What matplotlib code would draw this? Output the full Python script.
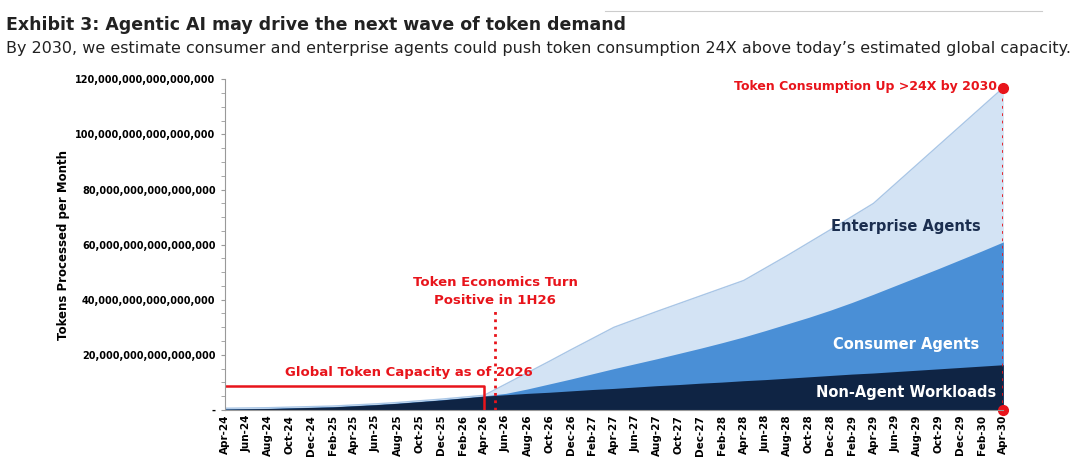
import numpy as np
import matplotlib.pyplot as plt

months = ['Apr', 'Jun', 'Aug', 'Oct', 'Dec', 'Feb']
labels = []
y = 24
for i in range(37):
    m = months[i % 6]
    if m == 'Feb' and i > 0:
        y += 1
    labels.append(f'{m}-{y}')

non_agent = [0.3, 0.4, 0.5, 0.7, 0.9, 1.1, 1.5, 1.9, 2.4, 3.0, 3.6, 4.3, 5.0,
             5.5, 6.0, 6.4, 6.9, 7.4, 7.8, 8.3, 8.8, 9.2, 9.7, 10.1, 10.6, 11.0,
             11.5, 12.0, 12.5, 13.0, 13.4, 13.9, 14.4, 14.9, 15.4, 15.9, 16.4]
consumer = [v + 0.1 for v in non_agent[:13]] + [
    6.0, 7.6, 9.4, 11.2, 13.1, 15.0, 16.8, 18.6, 20.5, 22.4, 24.4, 26.5,
    28.8, 31.2, 33.6, 36.2, 39.0, 42.0, 45.1, 48.2, 51.3, 54.5, 57.7, 61.0]
total = [v + 0.3 for v in non_agent[:13]] + [
    9.4, 13.5, 17.6, 21.8, 25.9, 30.0, 32.9, 35.8, 38.6, 41.4, 44.2, 47.0,
    51.5, 56.0, 60.7, 65.4, 70.2, 75.0, 82.0, 89.0, 96.0, 103.0, 110.0, 117.0]

E = 1e15
x = np.arange(37)
na = np.array(non_agent) * E
co = np.array(consumer) * E
to = np.array(total) * E

fig = plt.figure(figsize=(10.8, 4.59), dpi=100)
ax = fig.add_axes([0.208, 0.107, 0.721, 0.72])

ax.fill_between(x, 0, to, color='#d3e3f4', lw=0)
ax.plot(x, to, color='#a9c6e6', lw=1)
ax.fill_between(x, 0, co, color='#4a8fd6', lw=0)
ax.fill_between(x, 0, na, color='#0f2444', lw=0)

red = '#e8141b'
ax.plot([0, 12, 12], [8.7 * E, 8.7 * E, 0], color=red, lw=1.8)
ax.text(8.5, 13.5 * E, 'Global Token Capacity as of 2026', color=red,
        fontsize=9.5, fontweight='bold', ha='center', va='center')
ax.plot([12.5, 12.5], [0, 36 * E], color=red, lw=2, ls=':')
ax.text(12.5, 43 * E, 'Token Economics Turn\nPositive in 1H26', color=red,
        fontsize=9.5, fontweight='bold', ha='center', va='center', linespacing=1.5)
ax.plot([36, 36], [0, 117 * E], color=red, lw=2, ls=':')
ax.plot([36, 36], [0, 117 * E], 'o', color=red, ms=7, clip_on=False)
ax.text(35.7, 117.5 * E, 'Token Consumption Up >24X by 2030', color=red,
        fontsize=9, fontweight='bold', ha='right', va='center')

ax.text(31.5, 65 * E, 'Enterprise Agents', color='#1b2e4f', fontsize=10.5,
        fontweight='bold', ha='center')
ax.text(31.5, 22 * E, 'Consumer Agents', color='white', fontsize=10.5,
        fontweight='bold', ha='center')
ax.text(31.5, 4.5 * E, 'Non-Agent Workloads', color='white', fontsize=10.5,
        fontweight='bold', ha='center')

ax.set_xlim(0, 36)
ax.set_ylim(0, 120 * E)
ax.set_xticks(x)
ax.set_xticklabels(labels, rotation=90, fontsize=7.5, fontweight='bold')
yt = np.arange(0, 121, 20) * E
ax.set_yticks(yt)
ax.set_yticklabels(['-'] + [f'{int(v):,}' for v in yt[1:]], fontsize=7, fontweight='bold')
ax.set_yticks(np.arange(0, 121, 5) * E, minor=True)
ax.tick_params(axis='y', which='both', length=3, color='#999999')
ax.tick_params(axis='x', length=0)
ax.set_ylabel('Tokens Processed per Month', fontsize=8.5, fontweight='bold')
for s in ['top', 'right']:
    ax.spines[s].set_visible(False)
ax.spines['left'].set_color('#999999')
ax.spines['bottom'].set_color('#999999')

fig.text(0.006, 0.935, 'Exhibit 3: Agentic AI may drive the next wave of token demand',
         fontsize=12.5, fontweight='bold', color='#222222')
fig.text(0.006, 0.885, 'By 2030, we estimate consumer and enterprise agents could push token '
         'consumption 24X above today\u2019s estimated global capacity.',
         fontsize=11.5, color='#222222')
fig.add_artist(plt.Line2D([0.56, 0.965], [0.975, 0.975], color='#cccccc', lw=0.8))

fig.savefig('out.png', dpi=100)
